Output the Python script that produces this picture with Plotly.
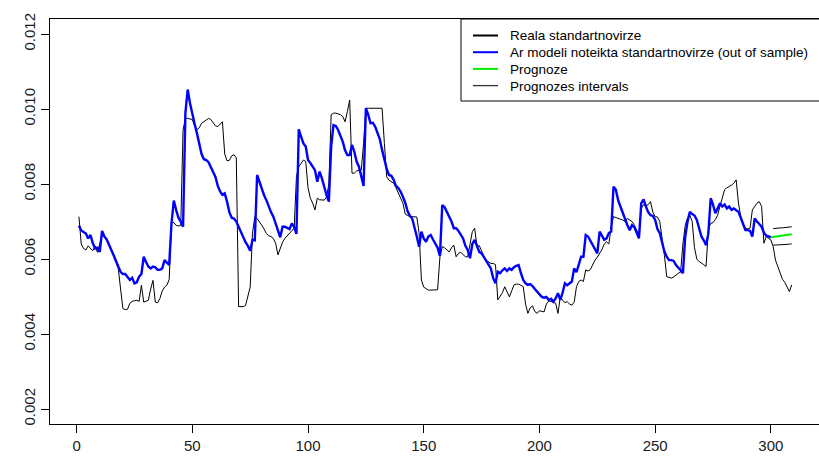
import plotly.graph_objects as go

# Realized standard deviation (daily), observations 1..309
real_sd = [
    0.00713, 0.00640, 0.00628, 0.00624, 0.00635, 0.00628, 0.00622, 0.00635, 0.00618, 0.00640,
    0.00662, 0.00660, 0.00655, 0.00640, 0.00625, 0.00605, 0.00590, 0.00575, 0.00520, 0.00468,
    0.00465, 0.00466, 0.00482, 0.00487, 0.00489, 0.00490, 0.00487, 0.00530, 0.00485, 0.00487,
    0.00490, 0.00520, 0.00543, 0.00485, 0.00483, 0.00495, 0.00515, 0.00525, 0.00530, 0.00545,
    0.00698, 0.00697, 0.00690, 0.00688, 0.00690, 0.00944, 0.00975, 0.00975, 0.00974, 0.00972,
    0.00955, 0.00945, 0.00950, 0.00962, 0.00966, 0.00970, 0.00975, 0.00972, 0.00962, 0.00955,
    0.00953, 0.00960, 0.00966, 0.00880, 0.00862, 0.00863, 0.00875, 0.00878, 0.00870, 0.00473,
    0.00472, 0.00473, 0.00476, 0.00500, 0.00525, 0.00669, 0.00713, 0.00708, 0.00700, 0.00690,
    0.00680, 0.00668, 0.00662, 0.00660, 0.00655, 0.00642, 0.00611, 0.00628, 0.00645, 0.00655,
    0.00662, 0.00669, 0.00675, 0.00682, 0.00820, 0.00846, 0.00855, 0.00864, 0.00860, 0.00790,
    0.00762, 0.00749, 0.00731, 0.00762, 0.00758, 0.00757, 0.00757, 0.00765, 0.00800, 0.00985,
    0.00989, 0.00989, 0.00988, 0.00985, 0.00980, 0.00966, 0.00993, 0.01024, 0.00829, 0.00829,
    0.00835, 0.00837, 0.00837, 0.00908, 0.01002, 0.01002, 0.01002, 0.01000, 0.01000, 0.01000,
    0.01000, 0.01002, 0.00908, 0.00819, 0.00810, 0.00805, 0.00802, 0.00790, 0.00775, 0.00760,
    0.00749, 0.00720, 0.00717, 0.00713, 0.00713, 0.00713, 0.00712, 0.00669, 0.00544, 0.00525,
    0.00520, 0.00517, 0.00517, 0.00517, 0.00517, 0.00518, 0.00606, 0.00633, 0.00630, 0.00625,
    0.00619, 0.00630, 0.00637, 0.00606, 0.00615, 0.00618, 0.00612, 0.00606, 0.00606, 0.00640,
    0.00673, 0.00682, 0.00633, 0.00636, 0.00620, 0.00607, 0.00597, 0.00593, 0.00588, 0.00588,
    0.00585, 0.00491, 0.00499, 0.00510, 0.00526, 0.00512, 0.00499, 0.00515, 0.00531, 0.00533,
    0.00533, 0.00530, 0.00526, 0.00480, 0.00455, 0.00470, 0.00475, 0.00460, 0.00455, 0.00462,
    0.00460, 0.00459, 0.00480, 0.00488, 0.00487, 0.00484, 0.00482, 0.00455, 0.00499, 0.00490,
    0.00484, 0.00486, 0.00480, 0.00477, 0.00485, 0.00526, 0.00540, 0.00544, 0.00540, 0.00571,
    0.00568, 0.00572, 0.00585, 0.00597, 0.00605, 0.00615, 0.00625, 0.00640, 0.00646, 0.00640,
    0.00686, 0.00713, 0.00710, 0.00708, 0.00706, 0.00704, 0.00700, 0.00708, 0.00705, 0.00700,
    0.00690, 0.00675, 0.00664, 0.00735, 0.00745, 0.00742, 0.00745, 0.00753, 0.00725, 0.00713,
    0.00712, 0.00700, 0.00660, 0.00610, 0.00553, 0.00550, 0.00549, 0.00552, 0.00558, 0.00562,
    0.00565, 0.00640, 0.00690, 0.00710, 0.00717, 0.00700, 0.00630, 0.00600, 0.00593, 0.00590,
    0.00585, 0.00580, 0.00680, 0.00695, 0.00697, 0.00705, 0.00717, 0.00740, 0.00765, 0.00785,
    0.00790, 0.00793, 0.00797, 0.00802, 0.00811, 0.00749, 0.00713, 0.00690, 0.00682, 0.00680,
    0.00682, 0.00731, 0.00740, 0.00749, 0.00753, 0.00740, 0.00642, 0.00660, 0.00655, 0.00651,
    0.00633, 0.00597, 0.00580, 0.00562, 0.00546, 0.00538, 0.00526, 0.00513, 0.00531,
]

# AR model standard deviation, out of sample, observations 1..300
ar_sd = [
    0.00689, 0.00676, 0.00672, 0.00668, 0.00655, 0.00664, 0.00642, 0.00628, 0.00630, 0.00619,
    0.00675, 0.00660, 0.00652, 0.00640, 0.00624, 0.00610, 0.00597, 0.00580, 0.00566, 0.00560,
    0.00560, 0.00552, 0.00544, 0.00550, 0.00535, 0.00538, 0.00553, 0.00560, 0.00606, 0.00592,
    0.00580, 0.00575, 0.00580, 0.00578, 0.00571, 0.00571, 0.00575, 0.00597, 0.00590, 0.00584,
    0.00695, 0.00756, 0.00731, 0.00710, 0.00700, 0.00686, 0.00989, 0.01052, 0.01015, 0.00985,
    0.00960, 0.00935, 0.00905, 0.00880, 0.00866, 0.00864, 0.00858, 0.00845, 0.00830, 0.00819,
    0.00795, 0.00780, 0.00771, 0.00775, 0.00753, 0.00725, 0.00710, 0.00708, 0.00700, 0.00685,
    0.00675, 0.00660, 0.00645, 0.00635, 0.00622, 0.00651, 0.00650, 0.00824, 0.00805, 0.00790,
    0.00770, 0.00757, 0.00740, 0.00725, 0.00713, 0.00695, 0.00680, 0.00658, 0.00686, 0.00686,
    0.00683, 0.00680, 0.00695, 0.00685, 0.00667, 0.00946, 0.00926, 0.00908, 0.00900, 0.00864,
    0.00856, 0.00845, 0.00837, 0.00806, 0.00833, 0.00815, 0.00789, 0.00770, 0.00753, 0.00900,
    0.00957, 0.00955, 0.00944, 0.00930, 0.00913, 0.00890, 0.00877, 0.00877, 0.00904, 0.00886,
    0.00860, 0.00846, 0.00824, 0.00795, 0.01002, 0.00985, 0.00962, 0.00963, 0.00953, 0.00935,
    0.00920, 0.00891, 0.00865, 0.00840, 0.00824, 0.00822, 0.00811, 0.00795, 0.00789, 0.00780,
    0.00766, 0.00750, 0.00728, 0.00715, 0.00708, 0.00686, 0.00660, 0.00633, 0.00673, 0.00655,
    0.00646, 0.00660, 0.00664, 0.00652, 0.00642, 0.00630, 0.00608, 0.00744, 0.00738, 0.00726,
    0.00712, 0.00700, 0.00682, 0.00682, 0.00675, 0.00664, 0.00655, 0.00635, 0.00624, 0.00602,
    0.00640, 0.00651, 0.00635, 0.00619, 0.00615, 0.00605, 0.00597, 0.00584, 0.00575, 0.00549,
    0.00535, 0.00566, 0.00562, 0.00570, 0.00575, 0.00568, 0.00575, 0.00571, 0.00578, 0.00582,
    0.00584, 0.00562, 0.00544, 0.00535, 0.00531, 0.00533, 0.00528, 0.00520, 0.00513, 0.00505,
    0.00499, 0.00497, 0.00499, 0.00491, 0.00494, 0.00486, 0.00495, 0.00509, 0.00491, 0.00510,
    0.00535, 0.00530, 0.00535, 0.00540, 0.00575, 0.00565, 0.00585, 0.00606, 0.00606, 0.00664,
    0.00660, 0.00648, 0.00637, 0.00625, 0.00615, 0.00673, 0.00662, 0.00651, 0.00655, 0.00669,
    0.00673, 0.00793, 0.00785, 0.00757, 0.00740, 0.00722, 0.00704, 0.00690, 0.00677, 0.00690,
    0.00685, 0.00668, 0.00655, 0.00749, 0.00759, 0.00740, 0.00725, 0.00717, 0.00715, 0.00704,
    0.00680, 0.00669, 0.00642, 0.00620, 0.00606, 0.00597, 0.00597, 0.00595, 0.00584, 0.00578,
    0.00570, 0.00562, 0.00660, 0.00700, 0.00726, 0.00720, 0.00716, 0.00704, 0.00682, 0.00660,
    0.00650, 0.00637, 0.00669, 0.00762, 0.00745, 0.00722, 0.00735, 0.00749, 0.00740, 0.00745,
    0.00735, 0.00740, 0.00731, 0.00735, 0.00730, 0.00726, 0.00710, 0.00691, 0.00677, 0.00677,
    0.00675, 0.00660, 0.00708, 0.00700, 0.00694, 0.00686, 0.00670, 0.00662, 0.00660, 0.00658,
]

# Forecast (observations 300..309) and forecast interval bounds (301..309)
forecast_start = 300
forecast = [0.00658, 0.00659, 0.00660, 0.00661, 0.00662, 0.00662, 0.00663, 0.00664, 0.00665, 0.00666]
interval_start = 301
upper_bound = [0.00681, 0.00682, 0.00682, 0.00683, 0.00683, 0.00684, 0.00684, 0.00685, 0.00686]
lower_bound = [0.00637, 0.00637, 0.00638, 0.00638, 0.00638, 0.00639, 0.00639, 0.00640, 0.00640]

x_ticks = [0, 50, 100, 150, 200, 250, 300]
y_ticks = [0.002, 0.004, 0.006, 0.008, 0.010, 0.012]
y_tick_text = ["0.002", "0.004", "0.006", "0.008", "0.010", "0.012"]

legend_labels = [
    "Reala standartnovirze",
    "Ar modeli noteikta standartnovirze (out of sample)",
    "Prognoze",
    "Prognozes intervals",
]
legend_colors = ["#000000", "#0000ff", "#00ee00", "#333333"]
legend_widths = [2, 2, 2, 1.3]

FONT = "Liberation Sans, Arial, sans-serif"

fig = go.Figure()

fig.add_trace(go.Scatter(
    x=list(range(1, len(real_sd) + 1)), y=real_sd, mode="lines",
    line=dict(color="#000000", width=1), name=legend_labels[0]))
fig.add_trace(go.Scatter(
    x=list(range(1, len(ar_sd) + 1)), y=ar_sd, mode="lines",
    line=dict(color="#0000ff", width=2.4), name=legend_labels[1]))
fig.add_trace(go.Scatter(
    x=list(range(forecast_start, forecast_start + len(forecast))), y=forecast, mode="lines",
    line=dict(color="#00ee00", width=2.2), name=legend_labels[2]))
fig.add_trace(go.Scatter(
    x=list(range(interval_start, interval_start + len(upper_bound))), y=upper_bound, mode="lines",
    line=dict(color="#000000", width=1), name=legend_labels[3]))
fig.add_trace(go.Scatter(
    x=list(range(interval_start, interval_start + len(lower_bound))), y=lower_bound, mode="lines",
    line=dict(color="#000000", width=1), name=legend_labels[3]))

# Plot area in pixels: x 50..819 (box continues past the right edge), y 19..424
L, R, T, B = 50, 819, 19, 424
W, H = 819, 464


def px_x(p):
    return (p - L) / (R - L)


def px_y(p):
    return (B - p) / (B - T)


shapes = []
annotations = []

# Legend box in the top-right corner
shapes.append(dict(type="rect", xref="paper", yref="paper",
                   x0=px_x(461), x1=px_x(830), y0=px_y(101), y1=px_y(T),
                   line=dict(color="#000000", width=1), fillcolor="white", layer="above"))
row_y = [35.5, 52.2, 68.9, 85.6]
for lbl, col, lw, ry in zip(legend_labels, legend_colors, legend_widths, row_y):
    shapes.append(dict(type="line", xref="paper", yref="paper",
                       x0=px_x(473), x1=px_x(498), y0=px_y(ry), y1=px_y(ry),
                       line=dict(color=col, width=lw), layer="above"))
    annotations.append(dict(text=lbl, xref="paper", yref="paper",
                            x=px_x(508), y=px_y(ry + 0.5), xanchor="left", yanchor="middle",
                            showarrow=False, font=dict(family=FONT, size=13.5, color="#000000")))

fig.update_layout(
    width=W, height=H,
    margin=dict(l=L, r=W - R, t=T, b=H - B),
    paper_bgcolor="white", plot_bgcolor="white",
    showlegend=False, hovermode=False,
    shapes=shapes, annotations=annotations,
    font=dict(family=FONT, color="#000000"),
)
fig.update_xaxes(
    range=[-11.5, 320.8], tickvals=x_ticks, ticks="outside", ticklen=8, tickwidth=1,
    tickcolor="#000000", showgrid=False, zeroline=False, showline=True, mirror=True,
    linecolor="#000000", linewidth=1, tickfont=dict(family=FONT, size=15, color="#1a1a1a"),
)
fig.update_yaxes(
    range=[0.0016, 0.0124], tickvals=y_ticks, ticktext=y_tick_text, tickangle=-90,
    ticks="outside", ticklen=8, tickwidth=1, tickcolor="#000000", showgrid=False,
    zeroline=False, showline=True, mirror=False, linecolor="#000000", linewidth=1,
    tickfont=dict(family=FONT, size=15, color="#1a1a1a"),
)

fig.write_html("out.html")
